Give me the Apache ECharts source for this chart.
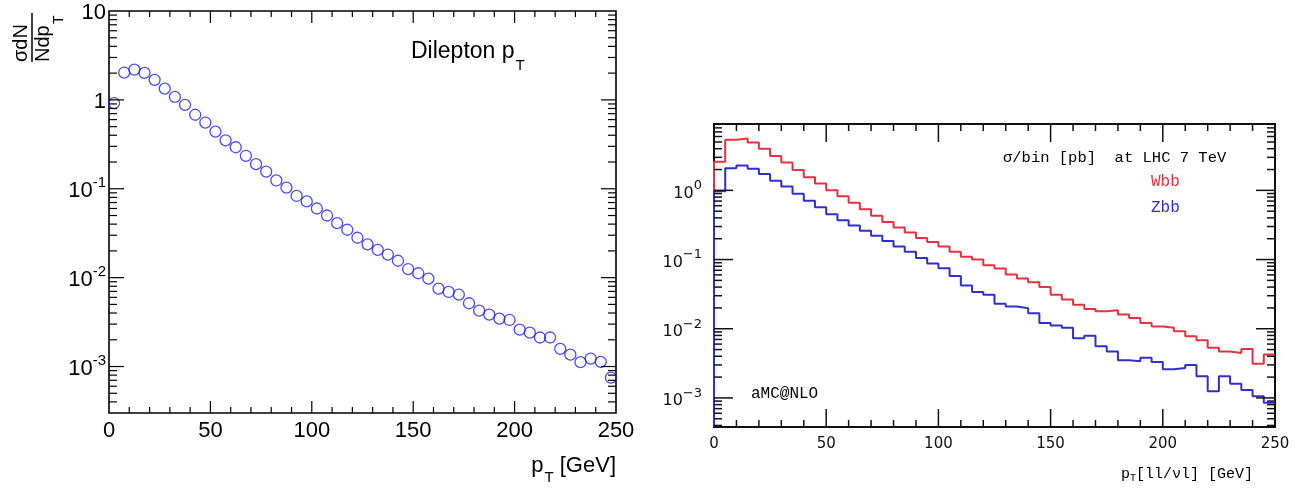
<!DOCTYPE html>
<html><head><meta charset="utf-8">
<script src="https://cdn.jsdelivr.net/npm/echarts@6/dist/echarts.min.js"></script>
<style>html,body{margin:0;padding:0;background:#fff}#c{width:1304px;height:490px}</style>
</head><body><div id="c"></div>
<script>
// ---------------- data ----------------
// Left panel: Dilepton pT, bin centres (GeV) and values
const leftCenters = [2.5,7.5,12.5,17.5,22.5,27.5,32.5,37.5,42.5,47.5,52.5,57.5,62.5,67.5,72.5,77.5,82.5,87.5,92.5,97.5,102.5,107.5,112.5,117.5,122.5,127.5,132.5,137.5,142.5,147.5,152.5,157.5,162.5,167.5,172.5,177.5,182.5,187.5,192.5,197.5,202.5,207.5,212.5,217.5,222.5,227.5,232.5,237.5,242.5,247.5];
const leftValues = [0.92,2.03,2.19,2.01,1.68,1.34,1.08,0.88,0.68,0.556,0.44,0.35,0.293,0.235,0.189,0.156,0.124,0.103,0.083,0.072,0.060,0.050,0.041,0.0346,0.0281,0.0237,0.0205,0.0182,0.0155,0.0125,0.0112,0.00975,0.00752,0.0069,0.00645,0.00515,0.00426,0.00384,0.00346,0.00334,0.0026,0.00241,0.00212,0.00212,0.00158,0.00136,0.00112,0.00123,0.00113,0.00075];
// Right panel: histogram bin low edges (GeV), last upper edge
const rightEdges = [0,5,10,15,20,25,30,35,40,45,50,55,60,65,70,75,80,85,90,95,100,105,110,115,120,125,130,135,140,145,150,155,160,165,170,175,180,185,190,195,200,205,210,215,220,225,230,235,240,245];
const rightUpperEdge = 250;
const wbbValues = [2.6,5.4,5.6,4.9,4.0,3.15,2.52,1.97,1.55,1.26,1.0,0.82,0.66,0.535,0.43,0.35,0.29,0.245,0.205,0.18,0.155,0.13,0.11,0.1,0.083,0.074,0.061,0.053,0.047,0.040,0.0311,0.0264,0.0223,0.0193,0.0179,0.0185,0.016,0.0143,0.0121,0.0108,0.0103,0.0092,0.0078,0.0068,0.0053,0.0047,0.00447,0.0051,0.00313,0.00423];
const zbbValues = [0.97,2.08,2.28,2.06,1.72,1.38,1.14,0.89,0.71,0.57,0.45,0.37,0.31,0.26,0.22,0.185,0.155,0.13,0.105,0.088,0.075,0.058,0.042,0.034,0.031,0.023,0.021,0.0198,0.0168,0.0121,0.0111,0.0103,0.0073,0.0079,0.0056,0.0047,0.0035,0.0034,0.0038,0.0033,0.0026,0.0027,0.003,0.00205,0.00125,0.00205,0.0016,0.0013,0.00106,0.00085];
// axis ranges / tick labels
const leftX = {min: 0, max: 250, major: 50, minor: 10};
const leftY = {min: 3e-4, max: 10};
const rightX = {min: 0, max: 250, major: 50, minor: 10};
const rightY = {min: 3.8e-4, max: 9.1};
const leftYTickLabels = {'-3': '10{s|-3}', '-2': '10{s|-2}', '-1': '10{s|-1}', '0': '1', '1': '10'};
const rightYTickLabels = {'-3': '10{s|−3}', '-2': '10{s|−2}', '-1': '10{s|−1}', '0': '10{s|0}'};

// ---------------- helpers ----------------
const SANS = 'Liberation Sans, Arial, sans-serif';
const MONO = 'Liberation Mono, monospace';
const NUM = 'DejaVu Sans, sans-serif';

function tickItems(xr, yr, lens) {
  const items = [];
  for (let i = 0; ; i++) {
    const v = xr.min + i * xr.minor;
    if (v > xr.max + 1e-9) break;
    if (v <= xr.min || v >= xr.max) continue;
    const major = Math.abs(v / xr.major - Math.round(v / xr.major)) < 1e-9;
    items.push([v, yr.min, major ? lens.xMaj : lens.xMin, 0]);
  }
  const e0 = Math.floor(Math.log10(yr.min)), e1 = Math.ceil(Math.log10(yr.max));
  for (let e = e0; e <= e1; e++) {
    for (let m = 1; m <= 9; m++) {
      const v = m * Math.pow(10, e);
      if (v <= yr.min * 1.0001 || v >= yr.max * 0.9999) continue;
      items.push([xr.min, v, m === 1 ? lens.yMaj : lens.yMin, 1]);
    }
  }
  return items;
}
function tickSeries(idx, xr, yr, lens, color, width) {
  return {
    type: 'custom', xAxisIndex: idx, yAxisIndex: idx, silent: true, z: 5,
    data: tickItems(xr, yr, lens),
    renderItem: function (params, api) {
      const x = api.value(0), y = api.value(1), len = api.value(2), dir = api.value(3);
      const st = {stroke: color, lineWidth: width};
      if (dir === 0) {
        const b = api.coord([x, yr.min]), t = api.coord([x, yr.max]);
        return {type: 'group', children: [
          {type: 'line', shape: {x1: b[0], y1: b[1], x2: b[0], y2: b[1] - len}, style: st},
          {type: 'line', shape: {x1: t[0], y1: t[1], x2: t[0], y2: t[1] + len}, style: st}]};
      } else {
        const l = api.coord([xr.min, y]), r = api.coord([xr.max, y]);
        return {type: 'group', children: [
          {type: 'line', shape: {x1: l[0], y1: l[1], x2: l[0] + len, y2: l[1]}, style: st},
          {type: 'line', shape: {x1: r[0] - len, y1: r[1], x2: r[0], y2: r[1]}, style: st}]};
      }
    }
  };
}
function expOf(v) {
  const e = Math.log10(v);
  if (Math.abs(e - Math.round(e)) > 1e-6) return null;
  return String(Math.round(e));
}
function stepData(edges, upper, vals, floor) {
  const d = [[edges[0], floor]];
  for (let i = 0; i < vals.length; i++) d.push([edges[i], vals[i]]);
  d.push([upper, vals[vals.length - 1]]);
  return d;
}

// ---------------- chart ----------------
const chart = echarts.init(document.getElementById('c'), null, {renderer: 'canvas'});
const option = {
  animation: false,
  backgroundColor: '#fff',
  grid: [
    {left: 109, top: 11, width: 507, height: 402, show: true, borderColor: '#000', borderWidth: 1.6, backgroundColor: 'transparent', containLabel: false, outerBoundsMode: 'none'},
    {left: 714, top: 124, width: 561, height: 303, show: true, borderColor: '#111', borderWidth: 2, backgroundColor: 'transparent', containLabel: false, outerBoundsMode: 'none'}
  ],
  xAxis: [
    {gridIndex: 0, type: 'value', min: leftX.min, max: leftX.max, interval: leftX.major,
     axisLine: {show: false}, axisTick: {show: false}, splitLine: {show: false},
     axisLabel: {fontSize: 22, fontFamily: SANS, color: '#000', margin: 7, showMinLabel: true, showMaxLabel: true}},
    {gridIndex: 1, type: 'value', min: rightX.min, max: rightX.max, interval: rightX.major,
     axisLine: {show: false}, axisTick: {show: false}, splitLine: {show: false},
     axisLabel: {fontSize: 15, fontFamily: NUM, color: '#111', margin: 10, showMinLabel: true, showMaxLabel: true}}
  ],
  yAxis: [
    {gridIndex: 0, type: 'log', logBase: 10, min: leftY.min, max: leftY.max,
     axisLine: {show: false}, axisTick: {show: false}, splitLine: {show: false},
     axisLabel: {margin: 3, showMinLabel: true, showMaxLabel: true,
       formatter: function (v) { const e = expOf(v); if (e === null || !(e in leftYTickLabels)) return ''; const t = leftYTickLabels[e]; return t.indexOf('{') >= 0 ? t.replace(/^10/, '{b|10}') : '{b|' + t + '}'; },
       rich: {b: {fontSize: 22, fontFamily: SANS, color: '#000', padding: [4, 0, 0, 0]},
              s: {fontSize: 15, fontFamily: SANS, color: '#000', verticalAlign: 'top'}}}},
    {gridIndex: 1, type: 'log', logBase: 10, min: rightY.min, max: rightY.max,
     axisLine: {show: false}, axisTick: {show: false}, splitLine: {show: false},
     axisLabel: {margin: 12, showMinLabel: true, showMaxLabel: true,
       formatter: function (v) { const e = expOf(v); if (e === null || !(e in rightYTickLabels)) return ''; return rightYTickLabels[e].replace(/^10/, '{b|10}'); },
       rich: {b: {fontSize: 16, fontFamily: NUM, color: '#111', padding: [6, 0, 0, 0]},
              s: {fontSize: 13, fontFamily: NUM, color: '#111', verticalAlign: 'top'}}}}
  ],
  series: [
    tickSeries(0, leftX, leftY, {xMaj: 12, xMin: 6, yMaj: 15, yMin: 8}, '#000', 1.2),
    tickSeries(1, rightX, rightY, {xMaj: 18, xMin: 7, yMaj: 19, yMin: 8}, '#111', 1.5),
    {type: 'scatter', xAxisIndex: 0, yAxisIndex: 0, z: 3,
     data: leftCenters.map((c, i) => [c, leftValues[i]]),
     symbol: 'circle', symbolSize: 11,
     itemStyle: {color: 'rgba(0,0,0,0)', borderColor: '#1f1fff', borderWidth: 1.3}},
    {type: 'line', name: 'Wbb', xAxisIndex: 1, yAxisIndex: 1, step: 'end', showSymbol: false, symbol: 'none', z: 3,
     data: stepData(rightEdges, rightUpperEdge, wbbValues, rightY.min),
     lineStyle: {color: '#e4323f', width: 2}},
    {type: 'line', name: 'Zbb', xAxisIndex: 1, yAxisIndex: 1, step: 'end', showSymbol: false, symbol: 'none', z: 4,
     data: stepData(rightEdges, rightUpperEdge, zbbValues, rightY.min),
     lineStyle: {color: '#2f2fcf', width: 2}}
  ],
  graphic: [
    // left y-axis title: sigma dN / N dp_T (rotated)
    {type: 'group', x: 32, y: 62, rotation: Math.PI / 2, children: [
      {type: 'line', shape: {x1: 0, y1: 0, x2: 49, y2: 0}, style: {stroke: '#000', lineWidth: 1.5}},
      {type: 'text', x: 0, y: -1, style: {text: 'σdN', font: '20px ' + SANS, fill: '#000', align: 'left', verticalAlign: 'bottom', textAlign: 'left', textVerticalAlign: 'bottom'}},
      {type: 'text', x: 0, y: 1, style: {text: 'Ndp', font: '20px ' + SANS, fill: '#000', align: 'left', verticalAlign: 'top', textAlign: 'left', textVerticalAlign: 'top'}},
      {type: 'text', x: 38, y: 20, style: {text: 'T', font: '14px ' + SANS, fill: '#000', align: 'left', verticalAlign: 'top', textAlign: 'left', textVerticalAlign: 'top'}}
    ]},
    // Dilepton pT label
    {type: 'text', x: 411, y: 40, style: {text: '{b|Dilepton p}{s|T}', align: 'left', verticalAlign: 'top', textAlign: 'left', textVerticalAlign: 'top',
      rich: {b: {fontSize: 23, fontFamily: SANS, fill: '#000', color: '#000', verticalAlign: 'top'},
             s: {fontSize: 15, fontFamily: SANS, fill: '#000', color: '#000', verticalAlign: 'top', padding: [18, 0, 0, 1]}}}},
    // left x-axis title
    {type: 'text', x: 616, y: 455, style: {text: '{b|p}{s|T}{b| [GeV]}', align: 'right', verticalAlign: 'top', textAlign: 'right', textVerticalAlign: 'top',
      rich: {b: {fontSize: 22, fontFamily: SANS, fill: '#000', color: '#000', verticalAlign: 'top'},
             s: {fontSize: 15, fontFamily: SANS, fill: '#000', color: '#000', verticalAlign: 'top', padding: [15, 0, 0, 1]}}}},
    // right panel annotations
    {type: 'text', x: 1003, y: 158, style: {text: 'σ/bin [pb]  at LHC 7 TeV', font: '15.5px ' + MONO, fill: '#000', align: 'left', verticalAlign: 'middle', textAlign: 'left', textVerticalAlign: 'middle'}},
    {type: 'text', x: 1151, y: 182, style: {text: 'Wbb', font: '16px ' + MONO, fill: '#e4323f', align: 'left', verticalAlign: 'middle', textAlign: 'left', textVerticalAlign: 'middle'}},
    {type: 'text', x: 1151, y: 208, style: {text: 'Zbb', font: '16px ' + MONO, fill: '#2f2fcf', align: 'left', verticalAlign: 'middle', textAlign: 'left', textVerticalAlign: 'middle'}},
    {type: 'text', x: 751, y: 394, style: {text: 'aMC@NLO', font: '16px ' + MONO, fill: '#000', align: 'left', verticalAlign: 'middle', textAlign: 'left', textVerticalAlign: 'middle'}},
    // right x-axis title
    {type: 'text', x: 1121, y: 467, style: {text: '{b|p}{s|T}{b|[ll/νl] [GeV]}', align: 'left', verticalAlign: 'top', textAlign: 'left', textVerticalAlign: 'top',
      rich: {b: {fontSize: 15, fontFamily: MONO, fill: '#000', color: '#000', verticalAlign: 'top'},
             s: {fontSize: 10, fontFamily: MONO, fill: '#000', color: '#000', verticalAlign: 'top', padding: [6, 0, 0, 0]}}}}
  ]
};
chart.setOption(option);
</script>
</body></html>
